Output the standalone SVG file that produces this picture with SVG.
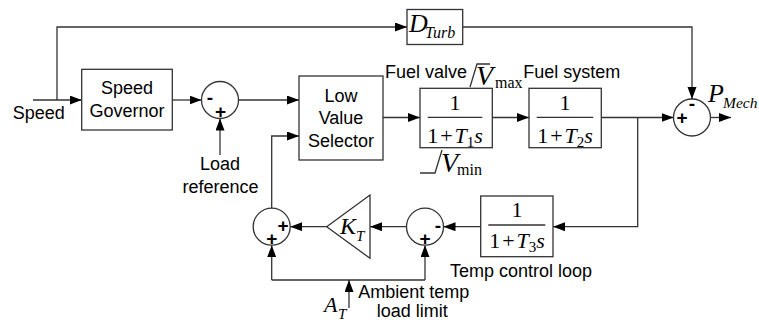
<svg xmlns="http://www.w3.org/2000/svg" width="759" height="324" viewBox="0 0 759 324">
<style>
.box{fill:#fff;stroke:#333;stroke-width:1.3}
.ln{fill:none;stroke:#333;stroke-width:1.3}
.arr{fill:none;stroke:#333;stroke-width:1.3;marker-end:url(#ah)}
.sans{font-family:"Liberation Sans",Arial,sans-serif;font-size:18px;fill:#000}
.c{text-anchor:middle}
.math{font-family:"Liberation Serif","Times New Roman",serif;fill:#000}
.it{font-style:italic}
.sign{font-family:"Liberation Sans",Arial,sans-serif;font-size:19px;font-weight:bold;fill:#000;text-anchor:middle}
</style>
<defs>
<marker id="ah" markerUnits="userSpaceOnUse" markerWidth="12" markerHeight="10" refX="12" refY="4.5" orient="auto">
<path d="M0,0 L12,4.5 L0,9 Z" fill="#000"/>
</marker>
</defs>
<rect width="759" height="324" fill="#fff"/>

<g id="connectors">
<path class="arr" d="M33,100 H81.7"/>
<path class="arr" d="M57,100 V27 H407"/>
<path class="arr" d="M462.7,27 H692 V99"/>
<path class="arr" d="M172.3,100 H201.5"/>
<path class="arr" d="M220,155 V118.5"/>
<path class="arr" d="M238.5,100 H299"/>
<path class="arr" d="M383,117.5 H420"/>
<path class="arr" d="M492.3,117.5 H529"/>
<path class="arr" d="M601.3,117.5 H673.5"/>
<path class="arr" d="M710.5,117.5 H731"/>
<path class="arr" d="M637.7,117.5 V226.7 H553"/>
<path class="arr" d="M480.7,226.7 H443.5"/>
<path class="arr" d="M406.5,226.7 H370"/>
<path class="arr" d="M326.7,226.7 H290.2"/>
<path class="arr" d="M271.7,208.2 V136 H299"/>
<path class="ln" d="M271.7,280 H425"/>
<path class="arr" d="M271.7,280 V245.2"/>
<path class="arr" d="M425,280 V245.2"/>
<path class="arr" d="M349,308 V280"/>
</g>

<g id="speed-label"><text class="sans" x="12.7" y="119">Speed</text></g>

<g id="speed-governor">
<rect class="box" x="81.7" y="69.3" width="90.6" height="60.7"/>
<text class="sans c" x="127" y="94.3">Speed</text>
<text class="sans c" x="127" y="117.3">Governor</text>
</g>

<g id="sum1">
<circle class="box" cx="220" cy="100" r="18.5"/>
<text class="sign" x="210" y="104">-</text>
<text class="sign" x="220.5" y="118">+</text>
</g>

<g id="load-ref">
<text class="sans c" x="220" y="169.5">Load</text>
<text class="sans c" x="220.5" y="193">reference</text>
</g>

<g id="lvs">
<rect class="box" x="299" y="76" width="84" height="84"/>
<text class="sans c" x="341" y="101.5">Low</text>
<text class="sans c" x="341" y="123.5">Value</text>
<text class="sans c" x="341" y="146.5">Selector</text>
</g>

<g id="fuel-valve">
<text class="sans" x="385" y="78">Fuel valve</text>
<rect class="box" x="420" y="88.3" width="72.3" height="59.4"/>
<path class="ln" d="M427.7,117.3 H482.3"/>
<text class="math c" font-size="22" x="455" y="110">1</text>
<text class="math c" font-size="22" x="455" y="143">1<tspan dx="2">+</tspan><tspan class="it" dx="2">T</tspan><tspan font-size="15" dy="4">1</tspan><tspan class="it" dy="-4">s</tspan></text>
<path class="ln" d="M470,87 L477,64 H490"/>
<text class="math it" font-size="28" x="476" y="85">V</text>
<text class="math" font-size="16" x="495" y="88.3">max</text>
<path class="ln" d="M420,173 H435 L442,150"/>
<text class="math it" font-size="28" x="441" y="172">V</text>
<text class="math" font-size="16" x="457" y="175">min</text>
</g>

<g id="fuel-system">
<text class="sans" x="523.3" y="78">Fuel system</text>
<rect class="box" x="529" y="88.3" width="72.3" height="59.4"/>
<path class="ln" d="M536.7,117.3 H593.3"/>
<text class="math c" font-size="22" x="565" y="110">1</text>
<text class="math c" font-size="22" x="565" y="143">1<tspan dx="2">+</tspan><tspan class="it" dx="2">T</tspan><tspan font-size="15" dy="4">2</tspan><tspan class="it" dy="-4">s</tspan></text>
</g>

<g id="d-turb">
<rect class="box" x="407" y="9.5" width="55.7" height="35"/>
<text class="math it" font-size="26" x="409" y="32">D</text>
<text class="math it" font-size="16" x="425" y="38">Turb</text>
</g>

<g id="sum2">
<circle class="box" cx="692" cy="117.5" r="18.5"/>
<text class="sign" x="692" y="110">-</text>
<text class="sign" x="682" y="124">+</text>
</g>

<g id="p-mech">
<text class="math it" font-size="26" x="708" y="102">P</text>
<text class="math it" font-size="15.5" x="723" y="108">Mech</text>
</g>

<g id="temp-control">
<rect class="box" x="480.7" y="196" width="72.3" height="60.7"/>
<path class="ln" d="M488.3,225 H545.3"/>
<text class="math c" font-size="22" x="517" y="216.7">1</text>
<text class="math c" font-size="22" x="517" y="248.3">1<tspan dx="2">+</tspan><tspan class="it" dx="2">T</tspan><tspan font-size="15" dy="4">3</tspan><tspan class="it" dy="-4">s</tspan></text>
<text class="sans" x="450" y="276.7">Temp control loop</text>
</g>

<g id="sum4">
<circle class="box" cx="425" cy="226.7" r="18.5"/>
<text class="sign" x="438" y="232">-</text>
<text class="sign" x="425" y="245">+</text>
</g>

<g id="kt">
<polygon class="box" points="326.7,226.7 370,195 370,258.3"/>
<text class="math it" font-size="24" x="340" y="234">K</text>
<text class="math it" font-size="15" x="356" y="241">T</text>
</g>

<g id="sum3">
<circle class="box" cx="271.7" cy="226.7" r="18.5"/>
<text class="sign" x="283" y="232">+</text>
<text class="sign" x="271.7" y="245">+</text>
</g>

<g id="ambient">
<text class="math it" font-size="22" x="324" y="312">A</text>
<text class="math it" font-size="15" x="338" y="319">T</text>
<text class="sans" x="358.3" y="298.3">Ambient temp</text>
<text class="sans" x="376.7" y="316.7">load limit</text>
</g>
</svg>
